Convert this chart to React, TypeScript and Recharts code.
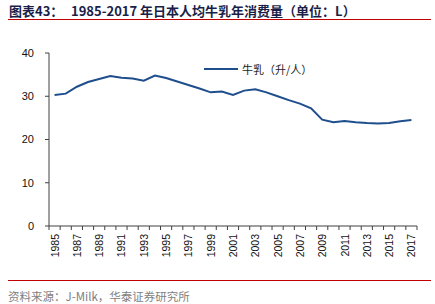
import React from "react";
import { LineChart, Line, XAxis, YAxis } from "recharts";

// Per-capita milk consumption in Japan, litres per person
const YEARS = [
  1985, 1986, 1987, 1988, 1989, 1990, 1991, 1992, 1993, 1994, 1995,
  1996, 1997, 1998, 1999, 2000, 2001, 2002, 2003, 2004, 2005, 2006,
  2007, 2008, 2009, 2010, 2011, 2012, 2013, 2014, 2015, 2016, 2017,
];
const MILK = [
  30.3, 30.6, 32.2, 33.3, 34.0, 34.7, 34.3, 34.1, 33.6, 34.8, 34.2,
  33.4, 32.6, 31.8, 30.9, 31.1, 30.3, 31.3, 31.6, 30.9, 30.0, 29.1,
  28.3, 27.2, 24.6, 24.0, 24.3, 24.0, 23.8, 23.7, 23.8, 24.2, 24.5,
];
const LABEL_YEARS = [
  1985, 1987, 1989, 1991, 1993, 1995, 1997, 1999, 2001, 2003, 2005,
  2007, 2009, 2011, 2013, 2015, 2017,
];
const Y_TICKS = [0, 10, 20, 30, 40];

const SERIES_NAME = "牛乳（升/人）";
const TITLE_PREFIX = "图表43：";
const TITLE = "1985-2017 年日本人均牛乳年消费量（单位：L）";
const SOURCE = "资料来源：J-Milk，华泰证券研究所";

const data = YEARS.map((year, i) => ({ year, milk: MILK[i] }));

// tick marks sit on the boundaries between yearly slots
const BOUNDARIES = [...YEARS.map((y) => y - 0.5), YEARS[YEARS.length - 1] + 0.5];

const W = 435;
const H = 304;
const MARGIN = { top: 53, right: 18, bottom: 38, left: 0 };
const Y_AXIS_W = 49;
const PLOT_W = W - MARGIN.left - MARGIN.right - Y_AXIS_W;
const HALF_SLOT = PLOT_W / YEARS.length / 2;

const LINE_COLOR = "#1F4E8C";
const AXIS_COLOR = "#404040";
const ARIAL = "'Liberation Sans', Arial, sans-serif";
const CJK = "'Noto Sans CJK SC', 'Liberation Sans', sans-serif";

const YearTick = (props: any) => {
  const { x, y, payload } = props;
  const year = payload.value + 0.5;
  if (!LABEL_YEARS.includes(year)) return null;
  const cx = x + HALF_SLOT;
  return (
    <text
      transform={`translate(${cx},${y}) rotate(-90)`}
      textAnchor="end"
      dominantBaseline="central"
      fontSize={10.5}
      fontFamily={ARIAL}
      fill="#111"
    >
      {year}
    </text>
  );
};

const SeriesKey = () => (
  <div
    style={{
      position: "absolute",
      left: 204,
      top: 62,
      display: "flex",
      alignItems: "center",
    }}
  >
    <svg width={34} height={4} style={{ display: "block" }}>
      <line x1={0} y1={2} x2={34} y2={2} stroke={LINE_COLOR} strokeWidth={2} />
    </svg>
    <span
      style={{
        marginLeft: 4,
        fontSize: 11,
        fontFamily: CJK,
        color: "#222",
        lineHeight: "14px",
        whiteSpace: "nowrap",
      }}
    >
      {SERIES_NAME}
    </span>
  </div>
);

const titleStyle: React.CSSProperties = {
  position: "absolute",
  top: 3,
  fontSize: 13,
  fontWeight: "bold",
  fontFamily: CJK,
  color: "#1a1f4a",
  lineHeight: "16px",
  whiteSpace: "nowrap",
};

export default function App() {
  return (
    <div
      style={{
        position: "fixed",
        left: 0,
        top: 0,
        width: W,
        height: H,
        background: "#fff",
        overflow: "hidden",
      }}
    >
      <div style={{ ...titleStyle, left: 9 }}>{TITLE_PREFIX}</div>
      <div style={{ ...titleStyle, left: 71 }}>{TITLE}</div>
      <div
        style={{
          position: "absolute",
          left: 8,
          top: 19,
          width: 423,
          height: 1,
          background: "#C00000",
        }}
      />
      <div style={{ position: "absolute", left: 0, top: 0 }}>
        <LineChart width={W} height={H} data={data} margin={MARGIN}>
          <XAxis
            dataKey="year"
            type="number"
            domain={[BOUNDARIES[0], BOUNDARIES[BOUNDARIES.length - 1]]}
            ticks={BOUNDARIES}
            interval={0}
            allowDataOverflow
            height={40}
            tickSize={4}
            tickMargin={4}
            stroke={AXIS_COLOR}
            axisLine={{ stroke: AXIS_COLOR, strokeWidth: 1 }}
            tickLine={{ stroke: AXIS_COLOR }}
            tick={<YearTick />}
          />
          <YAxis
            type="number"
            domain={[0, 40]}
            ticks={Y_TICKS}
            interval={0}
            width={Y_AXIS_W}
            tickSize={4}
            tickMargin={11}
            stroke={AXIS_COLOR}
            axisLine={{ stroke: AXIS_COLOR, strokeWidth: 1 }}
            tickLine={{ stroke: AXIS_COLOR }}
            tick={{ fontSize: 11, fontFamily: ARIAL, fill: "#111" }}
          />
          <Line
            type="linear"
            dataKey="milk"
            name={SERIES_NAME}
            stroke={LINE_COLOR}
            strokeWidth={2}
            dot={false}
            activeDot={false}
            isAnimationActive={false}
          />
        </LineChart>
      </div>
      <SeriesKey />
      <div
        style={{
          position: "absolute",
          left: 8,
          top: 280,
          width: 423,
          height: 1,
          background: "#C00000",
        }}
      />
      <div
        style={{
          position: "absolute",
          left: 8,
          top: 288,
          fontSize: 11.5,
          fontFamily: CJK,
          color: "#7f7f7f",
          lineHeight: "16px",
          whiteSpace: "nowrap",
        }}
      >
        {SOURCE}
      </div>
    </div>
  );
}
